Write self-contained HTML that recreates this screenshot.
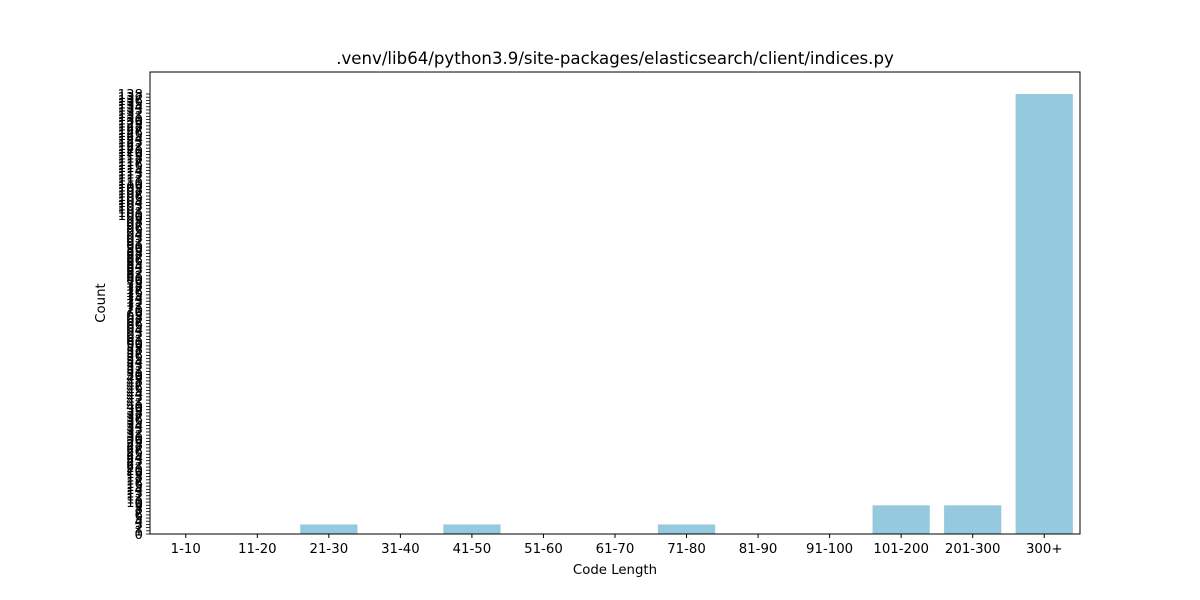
<!DOCTYPE html>
<html><head><meta charset="utf-8"><style>
body{margin:0;background:#fff}
svg{display:block;font-family:"DejaVu Sans","Liberation Sans",sans-serif}
</style></head><body>
<svg id="chart" width="1200" height="600">
<rect width="1200" height="600" fill="#fff"/>
<text x="615" y="64" text-anchor="middle" font-size="16.6">.venv/lib64/python3.9/site-packages/elasticsearch/client/indices.py</text>
<g id="bars"></g><g id="xticks"></g><g id="yticks"></g>
<rect x="150" y="72" width="930" height="462" fill="none" stroke="#000" stroke-width="1"/>
<text x="615" y="574" text-anchor="middle" font-size="13.3">Code Length</text>
<text transform="translate(105,303) rotate(-90)" text-anchor="middle" font-size="13.3">Count</text>
</svg>
<script>
const categories=["1-10","11-20","21-30","31-40","41-50","51-60","61-70","71-80","81-90","91-100","101-200","201-300","300+"];
const counts=[0,0,3,0,3,0,0,3,0,0,9,9,138];
const NS="http://www.w3.org/2000/svg";
const L=150,R=1080,T=72,B=534;
const maxV=Math.max(...counts)*1.05;
const y=v=>B-v/maxV*(B-T);
const slot=(R-L)/categories.length;
const x=i=>L+slot*(i+0.5);
function mk(tag,attrs,parent){const e=document.createElementNS(NS,tag);for(const k in attrs)e.setAttribute(k,attrs[k]);parent.appendChild(e);return e;}
const gb=document.getElementById('bars'),gx=document.getElementById('xticks'),gy=document.getElementById('yticks');
categories.forEach((c,i)=>{
  const bw=slot*0.8;
  const r=mk('rect',{x:x(i)-bw/2,y:y(counts[i]),width:bw,height:B-y(counts[i]),fill:'#95c9dd'},gb);
  
  
  mk('line',{x1:x(i),x2:x(i),y1:B,y2:B+4,stroke:'#000'},gx);
  const t=mk('text',{x:x(i),y:B+19,'text-anchor':'middle','font-size':'13.3'},gx);
  t.textContent=c;
  
  
});
const ymax=Math.max(...counts);
for(let v=0;v<=ymax;v++){
  mk('line',{x1:L-4,x2:L,y1:y(v),y2:y(v),stroke:'#000','stroke-width':0.8},gy);
  const t=mk('text',{x:L-7,y:y(v)+4.8,'text-anchor':'end','font-size':'13.3'},gy);
  t.textContent=v;
  
  
}
</script>
</body></html>
